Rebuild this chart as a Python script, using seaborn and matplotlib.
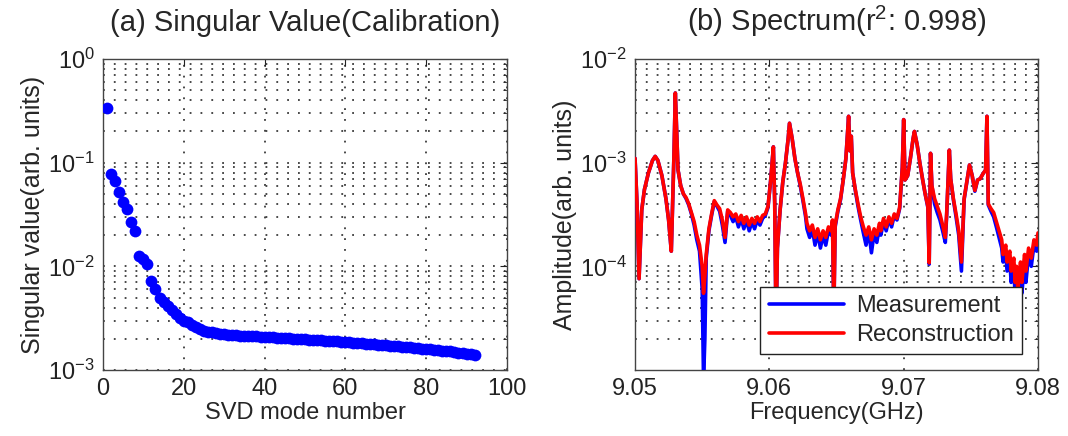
import numpy as np
import pandas as pd
import matplotlib
matplotlib.use("Agg")
import matplotlib.pyplot as plt
import seaborn as sns
from matplotlib.ticker import LogLocator, NullFormatter, FixedLocator

# ---------------- data ----------------
mode_number = list(range(1, 93))
singular_values = [
    0.34, 0.078, 0.066, 0.052, 0.042, 0.036, 0.027, 0.022, 0.0126, 0.0117,
    0.0105, 0.0072, 0.0060, 0.0049, 0.0045, 0.0041, 0.0038, 0.0035, 0.0032, 0.0030,
    0.0029, 0.0027, 0.0026, 0.0025, 0.0024, 0.00235, 0.0023, 0.00228, 0.00224, 0.00221,
    0.00219, 0.00217, 0.00216, 0.00215, 0.00214, 0.00213, 0.00212, 0.00211, 0.00210, 0.00209,
    0.00208, 0.00207, 0.00205, 0.00204, 0.00203, 0.00202, 0.00201, 0.00200, 0.00199, 0.00198,
    0.00196, 0.00195, 0.00194, 0.00193, 0.00192, 0.00191, 0.00190, 0.00189, 0.00188, 0.00187,
    0.00185, 0.00184, 0.00183, 0.00181, 0.00180, 0.00179, 0.00177, 0.00176, 0.00175, 0.00173,
    0.00172, 0.00170, 0.00169, 0.00168, 0.00166, 0.00165, 0.00164, 0.00162, 0.00161, 0.00160,
    0.00158, 0.00157, 0.00155, 0.00154, 0.00152, 0.00151, 0.00149, 0.00147, 0.00146, 0.00144,
    0.00142, 0.00139,
]

freq_ghz = [
    9.0500, 9.05015, 9.0503, 9.0505, 9.0507, 9.0510, 9.0513, 9.0515, 9.0517, 9.0520,
    9.0523, 9.0525, 9.0527, 9.0529, 9.0530, 9.0531, 9.0532, 9.0534, 9.0536, 9.0538,
    9.0540, 9.0542, 9.0544, 9.0546, 9.0548, 9.0550, 9.0551, 9.0552, 9.0553, 9.0555,
    9.0557, 9.0559, 9.0561, 9.0563, 9.0565, 9.0567, 9.0569, 9.0571, 9.0573, 9.0575,
    9.0577, 9.0579, 9.0581, 9.0583, 9.0585, 9.0587, 9.0589, 9.0591, 9.0593, 9.0595,
    9.0597, 9.0599, 9.0601, 9.0603, 9.0604, 9.0605, 9.0606, 9.0608, 9.0610, 9.0612,
    9.0614, 9.0615, 9.0617, 9.0619, 9.0621, 9.0623, 9.0625, 9.0627, 9.0628, 9.0630,
    9.0632, 9.0634, 9.0636, 9.0638, 9.0640, 9.0642, 9.0644, 9.0646, 9.0647, 9.0648,
    9.0649, 9.0651, 9.0653, 9.0655, 9.0657, 9.0659, 9.0660, 9.0661, 9.0662, 9.0664,
    9.0666, 9.0668, 9.0670, 9.0672, 9.0674, 9.0676, 9.0678, 9.0680, 9.0682, 9.0683,
    9.0685, 9.0687, 9.0689, 9.0691, 9.0693, 9.0695, 9.0697, 9.0699, 9.0700, 9.0701,
    9.0703, 9.0705, 9.0707, 9.0708, 9.0710, 9.0712, 9.0714, 9.0716, 9.0718, 9.0719,
    9.0720, 9.0721, 9.0723, 9.0725, 9.0727, 9.0729, 9.0731, 9.0732, 9.0734, 9.0735,
    9.0737, 9.0739, 9.0741, 9.0743, 9.0745, 9.0747, 9.0749, 9.0751, 9.0753, 9.0755,
    9.0757, 9.0759, 9.0761, 9.0762, 9.0763, 9.0765, 9.0767, 9.0769, 9.0771, 9.0773,
    9.0774, 9.0776, 9.0777, 9.0779, 9.0780, 9.0782, 9.0783, 9.0784, 9.0785, 9.0787,
    9.0788, 9.0790, 9.0791, 9.0793, 9.0795, 9.0797, 9.0799, 9.0800,
]

reconstruction = [
    1.1e-3, 4.0e-4, 7.6e-5, 3.5e-4, 5.5e-4, 8.0e-4, 1.05e-3, 1.15e-3, 1.05e-3, 7.5e-4,
    4.5e-4, 2.8e-4, 1.4e-4, 1.2e-3, 4.7e-3, 2.0e-3, 8.5e-4, 6.0e-4, 5.0e-4, 4.6e-4,
    4.0e-4, 3.3e-4, 2.7e-4, 2.0e-4, 1.6e-4, 1.0e-4, 5.5e-5, 8.0e-5, 1.3e-4, 2.3e-4,
    3.2e-4, 4.3e-4, 3.9e-4, 3.6e-4, 2.8e-4, 1.9e-4, 3.5e-4, 3.3e-4, 3.0e-4, 3.2e-4,
    2.7e-4, 3.1e-4, 2.6e-4, 3.0e-4, 2.5e-4, 2.9e-4, 2.6e-4, 3.0e-4, 2.7e-4, 3.1e-4,
    3.2e-4, 3.8e-4, 6.8e-4, 1.42e-3, 4.0e-4, 2.5e-5, 1.5e-4, 3.5e-4, 6.5e-4, 1.0e-3,
    1.7e-3, 2.4e-3, 1.7e-3, 1.1e-3, 8.0e-4, 6.2e-4, 4.5e-4, 3.2e-4, 2.6e-4, 2.2e-4,
    2.5e-4, 1.9e-4, 2.3e-4, 1.8e-4, 2.2e-4, 1.9e-4, 2.4e-4, 2.2e-4, 2.8e-4, 3.5e-5,
    2.5e-4, 3.5e-4, 4.5e-4, 6.8e-4, 1.1e-3, 2.8e-3, 1.3e-3, 1.8e-3, 8.0e-4, 5.5e-4,
    4.0e-4, 3.0e-4, 2.4e-4, 2.0e-4, 2.4e-4, 1.8e-4, 2.3e-4, 2.0e-4, 2.6e-4, 2.2e-4,
    2.9e-4, 2.4e-4, 3.0e-4, 2.6e-4, 3.2e-4, 2.9e-4, 3.7e-4, 9.0e-4, 2.6e-3, 6.8e-4,
    7.5e-4, 1.1e-3, 1.7e-3, 2.0e-3, 1.5e-3, 1.0e-3, 7.0e-4, 5.0e-4, 3.8e-4, 1.08e-4,
    1.23e-3, 6.0e-4, 4.5e-4, 3.8e-4, 3.2e-4, 2.5e-4, 1.9e-4, 3.2e-4, 1.32e-3, 7.0e-4,
    4.5e-4, 3.2e-4, 2.2e-4, 1.1e-4, 4.5e-4, 6.5e-4, 9.5e-4, 7.5e-4, 5.4e-4, 6.8e-4,
    7.0e-4, 7.8e-4, 8.5e-4, 2.8e-3, 4.0e-4, 3.6e-4, 3.3e-4, 2.7e-4, 2.2e-4, 1.8e-4,
    1.3e-4, 1.6e-4, 1.1e-4, 1.4e-4, 9.0e-5, 1.2e-4, 7.0e-5, 1.0e-4, 6.0e-5, 1.1e-4,
    7.0e-5, 1.3e-4, 9.0e-5, 1.5e-4, 1.2e-4, 1.8e-4, 1.6e-4, 2.1e-4,
]

measurement = [
    1.1e-3, 4.0e-4, 7.6e-5, 3.5e-4, 5.5e-4, 8.0e-4, 1.05e-3, 1.15e-3, 1.05e-3, 7.5e-4,
    4.5e-4, 2.8e-4, 1.4e-4, 1.2e-3, 4.7e-3, 2.0e-3, 8.5e-4, 6.0e-4, 5.0e-4, 4.5e-4,
    3.9e-4, 3.2e-4, 2.5e-4, 1.8e-4, 1.4e-4, 6.0e-5, 8.0e-6, 2.0e-5, 1.2e-4, 2.2e-4,
    3.1e-4, 4.2e-4, 3.8e-4, 3.4e-4, 2.5e-4, 1.7e-4, 3.4e-4, 3.1e-4, 2.7e-4, 3.0e-4,
    2.4e-4, 2.9e-4, 2.3e-4, 2.8e-4, 2.2e-4, 2.7e-4, 2.3e-4, 2.8e-4, 2.5e-4, 2.9e-4,
    3.1e-4, 3.7e-4, 6.8e-4, 1.42e-3, 4.0e-4, 2.5e-5, 1.5e-4, 3.5e-4, 6.5e-4, 1.0e-3,
    1.7e-3, 2.4e-3, 1.7e-3, 1.1e-3, 8.0e-4, 6.0e-4, 4.3e-4, 3.0e-4, 2.3e-4, 1.9e-4,
    2.3e-4, 1.6e-4, 2.1e-4, 1.5e-4, 2.0e-4, 1.6e-4, 2.2e-4, 2.0e-4, 2.7e-4, 3.5e-5,
    2.4e-4, 3.4e-4, 4.4e-4, 6.8e-4, 1.1e-3, 2.8e-3, 1.3e-3, 1.8e-3, 8.0e-4, 5.4e-4,
    3.8e-4, 2.8e-4, 2.1e-4, 1.6e-4, 2.2e-4, 1.35e-4, 2.1e-4, 1.7e-4, 2.4e-4, 2.0e-4,
    2.7e-4, 2.2e-4, 2.9e-4, 2.4e-4, 3.1e-4, 2.8e-4, 3.6e-4, 9.0e-4, 2.6e-3, 6.8e-4,
    7.5e-4, 1.1e-3, 1.7e-3, 2.0e-3, 1.5e-3, 1.0e-3, 7.0e-4, 5.0e-4, 3.7e-4, 1.05e-4,
    1.23e-3, 6.0e-4, 4.0e-4, 3.3e-4, 2.8e-4, 2.2e-4, 1.7e-4, 3.1e-4, 1.32e-3, 7.0e-4,
    4.4e-4, 3.0e-4, 2.0e-4, 9.0e-5, 4.4e-4, 6.5e-4, 9.5e-4, 7.5e-4, 5.3e-4, 6.8e-4,
    7.0e-4, 7.8e-4, 8.5e-4, 2.8e-3, 3.9e-4, 3.4e-4, 3.0e-4, 2.4e-4, 1.9e-4, 1.5e-4,
    1.1e-4, 1.3e-4, 9.0e-5, 1.2e-4, 7.0e-5, 1.0e-4, 5.0e-5, 8.5e-5, 4.0e-5, 9.0e-5,
    5.5e-5, 1.1e-4, 7.0e-5, 1.3e-4, 1.0e-4, 1.6e-4, 1.4e-4, 2.0e-4,
]

# ---------------- style ----------------
sns.set_style("white")
plt.rcParams["font.family"] = ["Liberation Sans", "DejaVu Sans"]
plt.rcParams["mathtext.fontset"] = "custom"
plt.rcParams["mathtext.rm"] = "Liberation Sans"
plt.rcParams["mathtext.it"] = "Liberation Sans"
plt.rcParams["mathtext.default"] = "regular"
TICK_FS = 17
LABEL_FS = 17
YLABEL_FS = 18
TITLE_FS = 21

fig = plt.figure(figsize=(10.68, 4.36), dpi=100)
ax1 = fig.add_axes([0.0964, 0.1514, 0.3783, 0.7133])
ax2 = fig.add_axes([0.5946, 0.1514, 0.3773, 0.7133])

grid_kw = dict(color="#3a3a3a", linestyle=(0, (1, 5)), linewidth=1.3)

def style_axis(ax):
    ax.set_yscale("log")
    for s in ax.spines.values():
        s.set_color("#444444")
        s.set_linewidth(1.0)
    ax.tick_params(which="major", direction="in", length=5, width=0.8,
                   top=True, right=True, labelsize=TICK_FS, colors="#222222", pad=6)
    ax.tick_params(which="minor", direction="in", length=3, width=0.6,
                   top=True, right=True)
    ax.yaxis.set_minor_locator(LogLocator(base=10, subs=np.arange(2, 10)))
    ax.yaxis.set_minor_formatter(NullFormatter())
    ax.xaxis.grid(True, which="major", **grid_kw)
    ax.yaxis.grid(True, which="major", **grid_kw)
    ax.yaxis.grid(True, which="minor", **grid_kw)
    ax.set_axisbelow(True)

# ---- panel (a) ----
df_sv = pd.DataFrame({"mode": mode_number, "sv": singular_values})
style_axis(ax1)
sns.scatterplot(data=df_sv, x="mode", y="sv", ax=ax1, color="#0000ff",
                s=72, edgecolor="#0000ff", linewidth=0, legend=False, zorder=3)
ax1.set_xlim(0, 100)
ax1.set_ylim(1e-3, 1e0)
ax1.set_xticks([0, 20, 40, 60, 80, 100])
ax1.set_yticks([1e-3, 1e-2, 1e-1, 1e0])
ax1.set_xlabel("SVD mode number", fontsize=LABEL_FS, labelpad=1)
ax1.set_ylabel("Singular value(arb. units)", fontsize=YLABEL_FS, labelpad=2)
ax1.set_title("(a) Singular Value(Calibration)", fontsize=TITLE_FS, pad=20)

# ---- panel (b) ----
df_sp = pd.concat([
    pd.DataFrame({"f": freq_ghz, "amp": measurement, "series": "Measurement"}),
    pd.DataFrame({"f": freq_ghz, "amp": reconstruction, "series": "Reconstruction"}),
])
style_axis(ax2)
sns.lineplot(data=df_sp, x="f", y="amp", hue="series", ax=ax2,
             palette={"Measurement": "#0000ff", "Reconstruction": "#ff0000"},
             sort=False, estimator=None, linewidth=2.6, zorder=3)
ax2.set_xlim(9.05, 9.08)
ax2.set_ylim(1e-5, 1e-2)
ax2.set_xticks([9.05, 9.06, 9.07, 9.08])
ax2.set_xticklabels(["9.05", "9.06", "9.07", "9.08"])
ax2.yaxis.set_major_locator(FixedLocator([1e-4, 1e-3, 1e-2]))
ax2.set_xlabel("Frequency(GHz)", fontsize=LABEL_FS, labelpad=1)
ax2.set_ylabel("Amplitude(arb. units)", fontsize=YLABEL_FS, labelpad=2)
ax2.set_title("(b) Spectrum(r$^{2}$: 0.998)", fontsize=TITLE_FS, pad=20)

leg = ax2.legend(loc="lower right", bbox_to_anchor=(0.972, 0.035),
                 fontsize=17, frameon=True, fancybox=False, handlelength=3.2,
                 borderpad=0.35, labelspacing=0.3, handletextpad=0.5,
                 borderaxespad=0.2)
leg.get_frame().set_edgecolor("#222222")
leg.get_frame().set_linewidth(1.0)
leg.get_frame().set_alpha(1.0)

fig.savefig("out.png", dpi=100)
